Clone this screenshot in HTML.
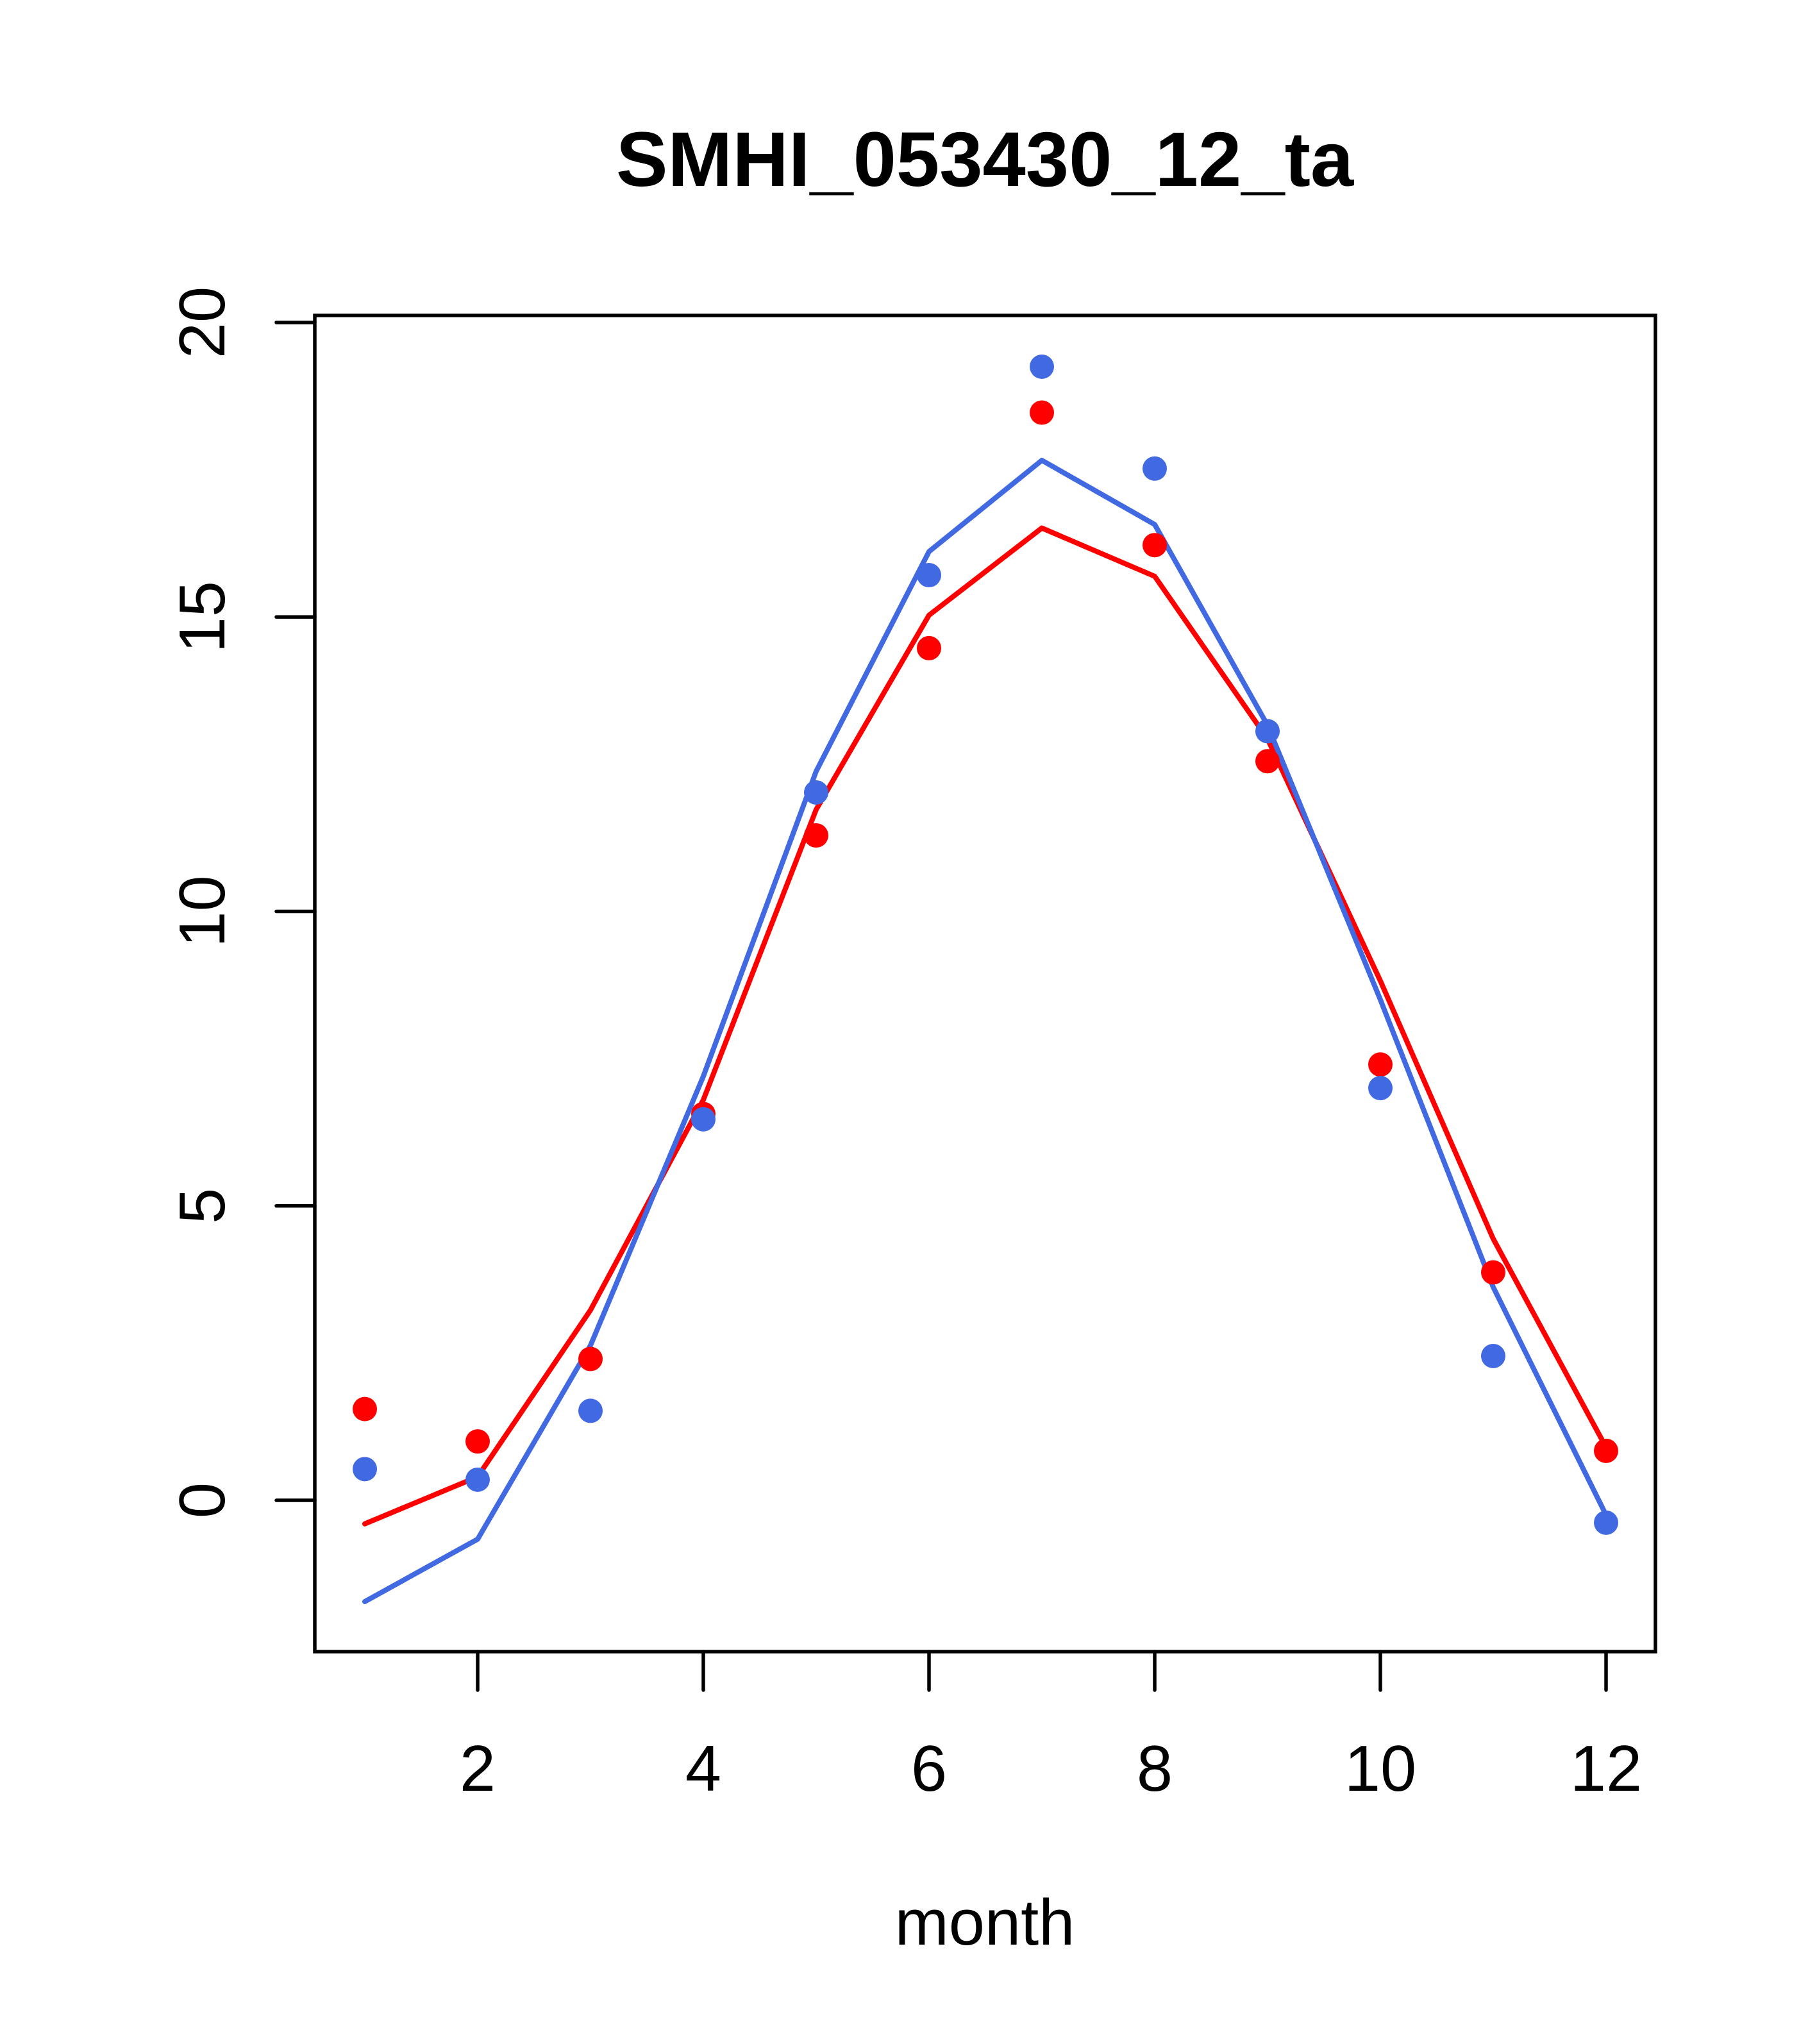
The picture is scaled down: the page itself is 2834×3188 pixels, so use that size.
<!DOCTYPE html>
<html><head><meta charset="utf-8"><style>html,body{margin:0;padding:0;background:#fff}svg{display:block}</style></head>
<body>
<svg id="chart" xmlns="http://www.w3.org/2000/svg" width="2834" height="3188" viewBox="0 0 2834 3188" font-family="Liberation Sans, sans-serif">
<rect width="2834" height="3188" fill="#fff"/>
<text x="1536" y="290" font-size="121" font-weight="bold" text-anchor="middle">SMHI_053430_12_ta</text>
<text x="1536" y="3033" font-size="101" text-anchor="middle">month</text>
<g id="plot"></g>
</svg>
<script>
const months = [1,2,3,4,5,6,7,8,9,10,11,12];
const redPoints = [1.55,1.0,2.4,6.56,11.29,14.47,18.47,16.22,12.55,7.4,3.87,0.84];
const bluePoints = [0.53,0.35,1.52,6.47,12.02,15.71,19.25,17.52,13.06,7.0,2.45,-0.38];
const redLine = [-0.4,0.4,3.23,6.8,11.73,15.03,16.51,15.69,12.93,8.82,4.44,0.9];
const blueLine = [-1.72,-0.66,2.63,7.2,12.38,16.11,17.66,16.57,13.16,8.5,3.62,-0.25];
const xTicks = [2,4,6,8,10,12];
const yTicks = [0,5,10,15,20];

const NS='http://www.w3.org/2000/svg';
const g=document.getElementById('plot');
const L=491,R=2582,T=492,B=2576;
function sx(m){return 569+(m-1)*176;}
function sy(v){return 2340-v*91.85;}
function mk(tag,attrs){const e=document.createElementNS(NS,tag);for(const k in attrs)e.setAttribute(k,attrs[k]);g.appendChild(e);return e;}

function drawLine(vals,color,name){
  const p=mk('polyline',{points:vals.map((v,i)=>sx(months[i])+','+sy(v)).join(' '),fill:'none',stroke:color,'stroke-width':8,'stroke-linejoin':'round','stroke-linecap':'round'});
  
  
}
function drawPts(vals,color,name){
  vals.forEach((v,i)=>{
    const c=mk('circle',{cx:sx(months[i]),cy:sy(v),r:19,fill:color});
    
    
  });
}
drawLine(redLine,'#ff0000','red-line');
drawLine(blueLine,'#4169e1','blue-line');
drawPts(redPoints,'#ff0000','red-point');
drawPts(bluePoints,'#4169e1','blue-point');

const box=mk('rect',{x:L,y:T,width:R-L,height:B-T,fill:'none',stroke:'#000','stroke-width':5.5});



xTicks.forEach(t=>{
  const l=mk('line',{x1:sx(t),x2:sx(t),y1:B,y2:B+60,stroke:'#000','stroke-width':5.5,'stroke-linecap':'round'});
  
  
  const tx=mk('text',{x:sx(t),y:2793,'font-size':101,'text-anchor':'middle'});
  tx.textContent=t;
  
  
});
yTicks.forEach(t=>{
  const l=mk('line',{x1:L-60,x2:L,y1:sy(t),y2:sy(t),stroke:'#000','stroke-width':5.5,'stroke-linecap':'round'});
  
  
  const tx=mk('text',{x:0,y:0,'font-size':101,'text-anchor':'middle',transform:'translate(350,'+sy(t)+') rotate(-90)'});
  tx.textContent=t;
  
  
});
</script>
</body></html>
